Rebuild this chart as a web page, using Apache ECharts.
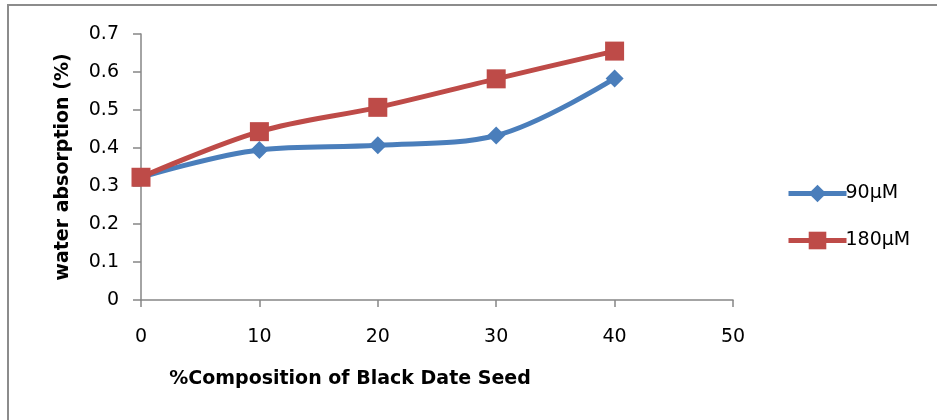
<!DOCTYPE html>
<html><head><meta charset="utf-8">
<script src="https://cdn.jsdelivr.net/npm/echarts@6/dist/echarts.min.js"></script>
<style>html,body{margin:0;padding:0;background:#fff}#c{width:937px;height:420px}</style>
</head><body><div id="c"></div>
<script>
const xValues = [0, 10, 20, 30, 40];
const series90 = [0.323, 0.395, 0.407, 0.433, 0.583];
const series180 = [0.323, 0.443, 0.507, 0.582, 0.655];
const seriesNames = ['90µM', '180µM'];
const xTitle = '%Composition of Black Date Seed';
const yTitle = 'water absorption (%)';

const FONT = '"DejaVu Sans", sans-serif';
const chart = echarts.init(document.getElementById('c'), null, {renderer: 'canvas'});
chart.setOption({
  animation: false,
  backgroundColor: '#fff',
  graphic: [{type: 'rect', shape: {x: 8, y: 5, width: 940, height: 430}, style: {fill: 'none', stroke: '#8c8c8c', lineWidth: 2}}],
  grid: {left: 141, top: 34, right: 204, bottom: 120},
  legend: {
    orient: 'vertical', left: 781, top: 179, itemGap: 28, itemWidth: 58, itemHeight: 22,
    lineStyle: {width: 5},
    textStyle: {fontFamily: FONT, fontSize: 19, color: '#000', padding: [0,0,0,-6]},
    data: seriesNames
  },
  xAxis: {
    type: 'value', min: 0, max: 50, interval: 10,
    name: xTitle, nameLocation: 'middle', nameGap: 70,
    nameTextStyle: {fontFamily: FONT, fontWeight: 'bold', fontSize: 19, color: '#000', padding: [0, 174, 0, 0]},
    axisLine: {lineStyle: {color: '#868686', width: 1.5}},
    axisTick: {show: true, length: 7, lineStyle: {color: '#868686', width: 1.5}},
    axisLabel: {fontFamily: FONT, fontSize: 19, color: '#000', margin: 28},
    splitLine: {show: false}
  },
  yAxis: {
    type: 'value', min: 0, max: 0.7, interval: 0.1,
    name: yTitle, nameLocation: 'middle', nameGap: 68, nameRotate: 90,
    nameTextStyle: {fontFamily: FONT, fontWeight: 'bold', fontSize: 19, color: '#000'},
    axisLine: {show: true, lineStyle: {color: '#868686', width: 1.5}},
    axisTick: {show: true, inside: false, length: 8, lineStyle: {color: '#868686', width: 1.5}},
    axisLabel: {fontFamily: FONT, fontSize: 19, color: '#000', margin: 22, formatter: v => String(Math.round(v*10)/10)},
    splitLine: {show: false}
  },
  series: [
    {name: seriesNames[0], type: 'line', smooth: 0.35, data: xValues.map((x,i)=>[x, series90[i]]),
     symbol: 'diamond', symbolSize: 18, itemStyle: {color: '#4A7EBB'}, lineStyle: {width: 5, color: '#4A7EBB'}, z: 2},
    {name: seriesNames[1], type: 'line', smooth: 0.35, data: xValues.map((x,i)=>[x, series180[i]]),
     symbol: 'rect', symbolSize: 19, itemStyle: {color: '#BE4B48'}, lineStyle: {width: 5, color: '#BE4B48'}, z: 3}
  ]
});
</script></body></html>
